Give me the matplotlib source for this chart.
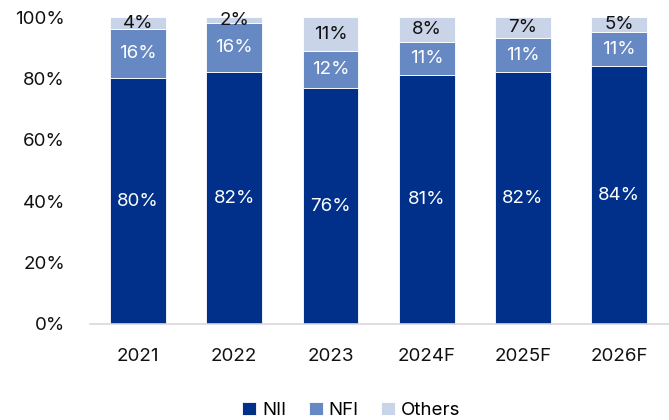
import matplotlib.pyplot as plt
import numpy as np

plt.rcParams['font.family'] = ['Inter', 'DejaVu Sans']

years = ["2021", "2022", "2023", "2024F", "2025F", "2026F"]
nii = [80, 82, 76, 81, 82, 84]
nfi = [16, 16, 12, 11, 11, 11]
others = [4, 2, 11, 8, 7, 5]

colors = {"NII": "#00308A", "NFI": "#6688C3", "Others": "#CAD4E8"}
text_colors = {"NII": "white", "NFI": "white", "Others": "#111111"}

fig = plt.figure(figsize=(6.69, 4.2), dpi=100)
ax = fig.add_axes([0.1345, 0.2286, 0.8655, 0.7309])

x = np.arange(len(years))
totals = np.array(nii) + np.array(nfi) + np.array(others)
bottom = np.zeros(len(years))
for name, vals in [("NII", nii), ("NFI", nfi), ("Others", others)]:
    share = np.array(vals) / totals * 100
    ax.bar(x, share, 0.58, bottom=bottom, color=colors[name], label=name,
           edgecolor="white", linewidth=0.6)
    for i, v in enumerate(vals):
        ax.text(x[i], bottom[i] + share[i] / 2, f"{v}%", ha="center", va="center",
                color=text_colors[name], fontsize=13.5)
    bottom += share

ax.set_xlim(-0.5, 5.52)
ax.set_ylim(0, 100)
ax.set_yticks(range(0, 101, 20))
ax.set_yticklabels([f"{t}%" for t in range(0, 101, 20)])
ax.set_xticks(x)
ax.set_xticklabels(years)
ax.tick_params(length=0, labelsize=13.5, colors="#111111")
ax.tick_params(axis="x", pad=17)
ax.tick_params(axis="y", pad=18)
for s in ["top", "right", "left"]:
    ax.spines[s].set_visible(False)
ax.spines["bottom"].set_color("#d9d9d9")
ax.spines["bottom"].set_linewidth(1.2)

fig.legend(loc="lower center", ncol=3, frameon=False, bbox_to_anchor=(0.525, -0.038),
           fontsize=13.5, handlelength=0.75, handleheight=0.75, handletextpad=0.3,
           columnspacing=1.2)

plt.savefig("out.png")
